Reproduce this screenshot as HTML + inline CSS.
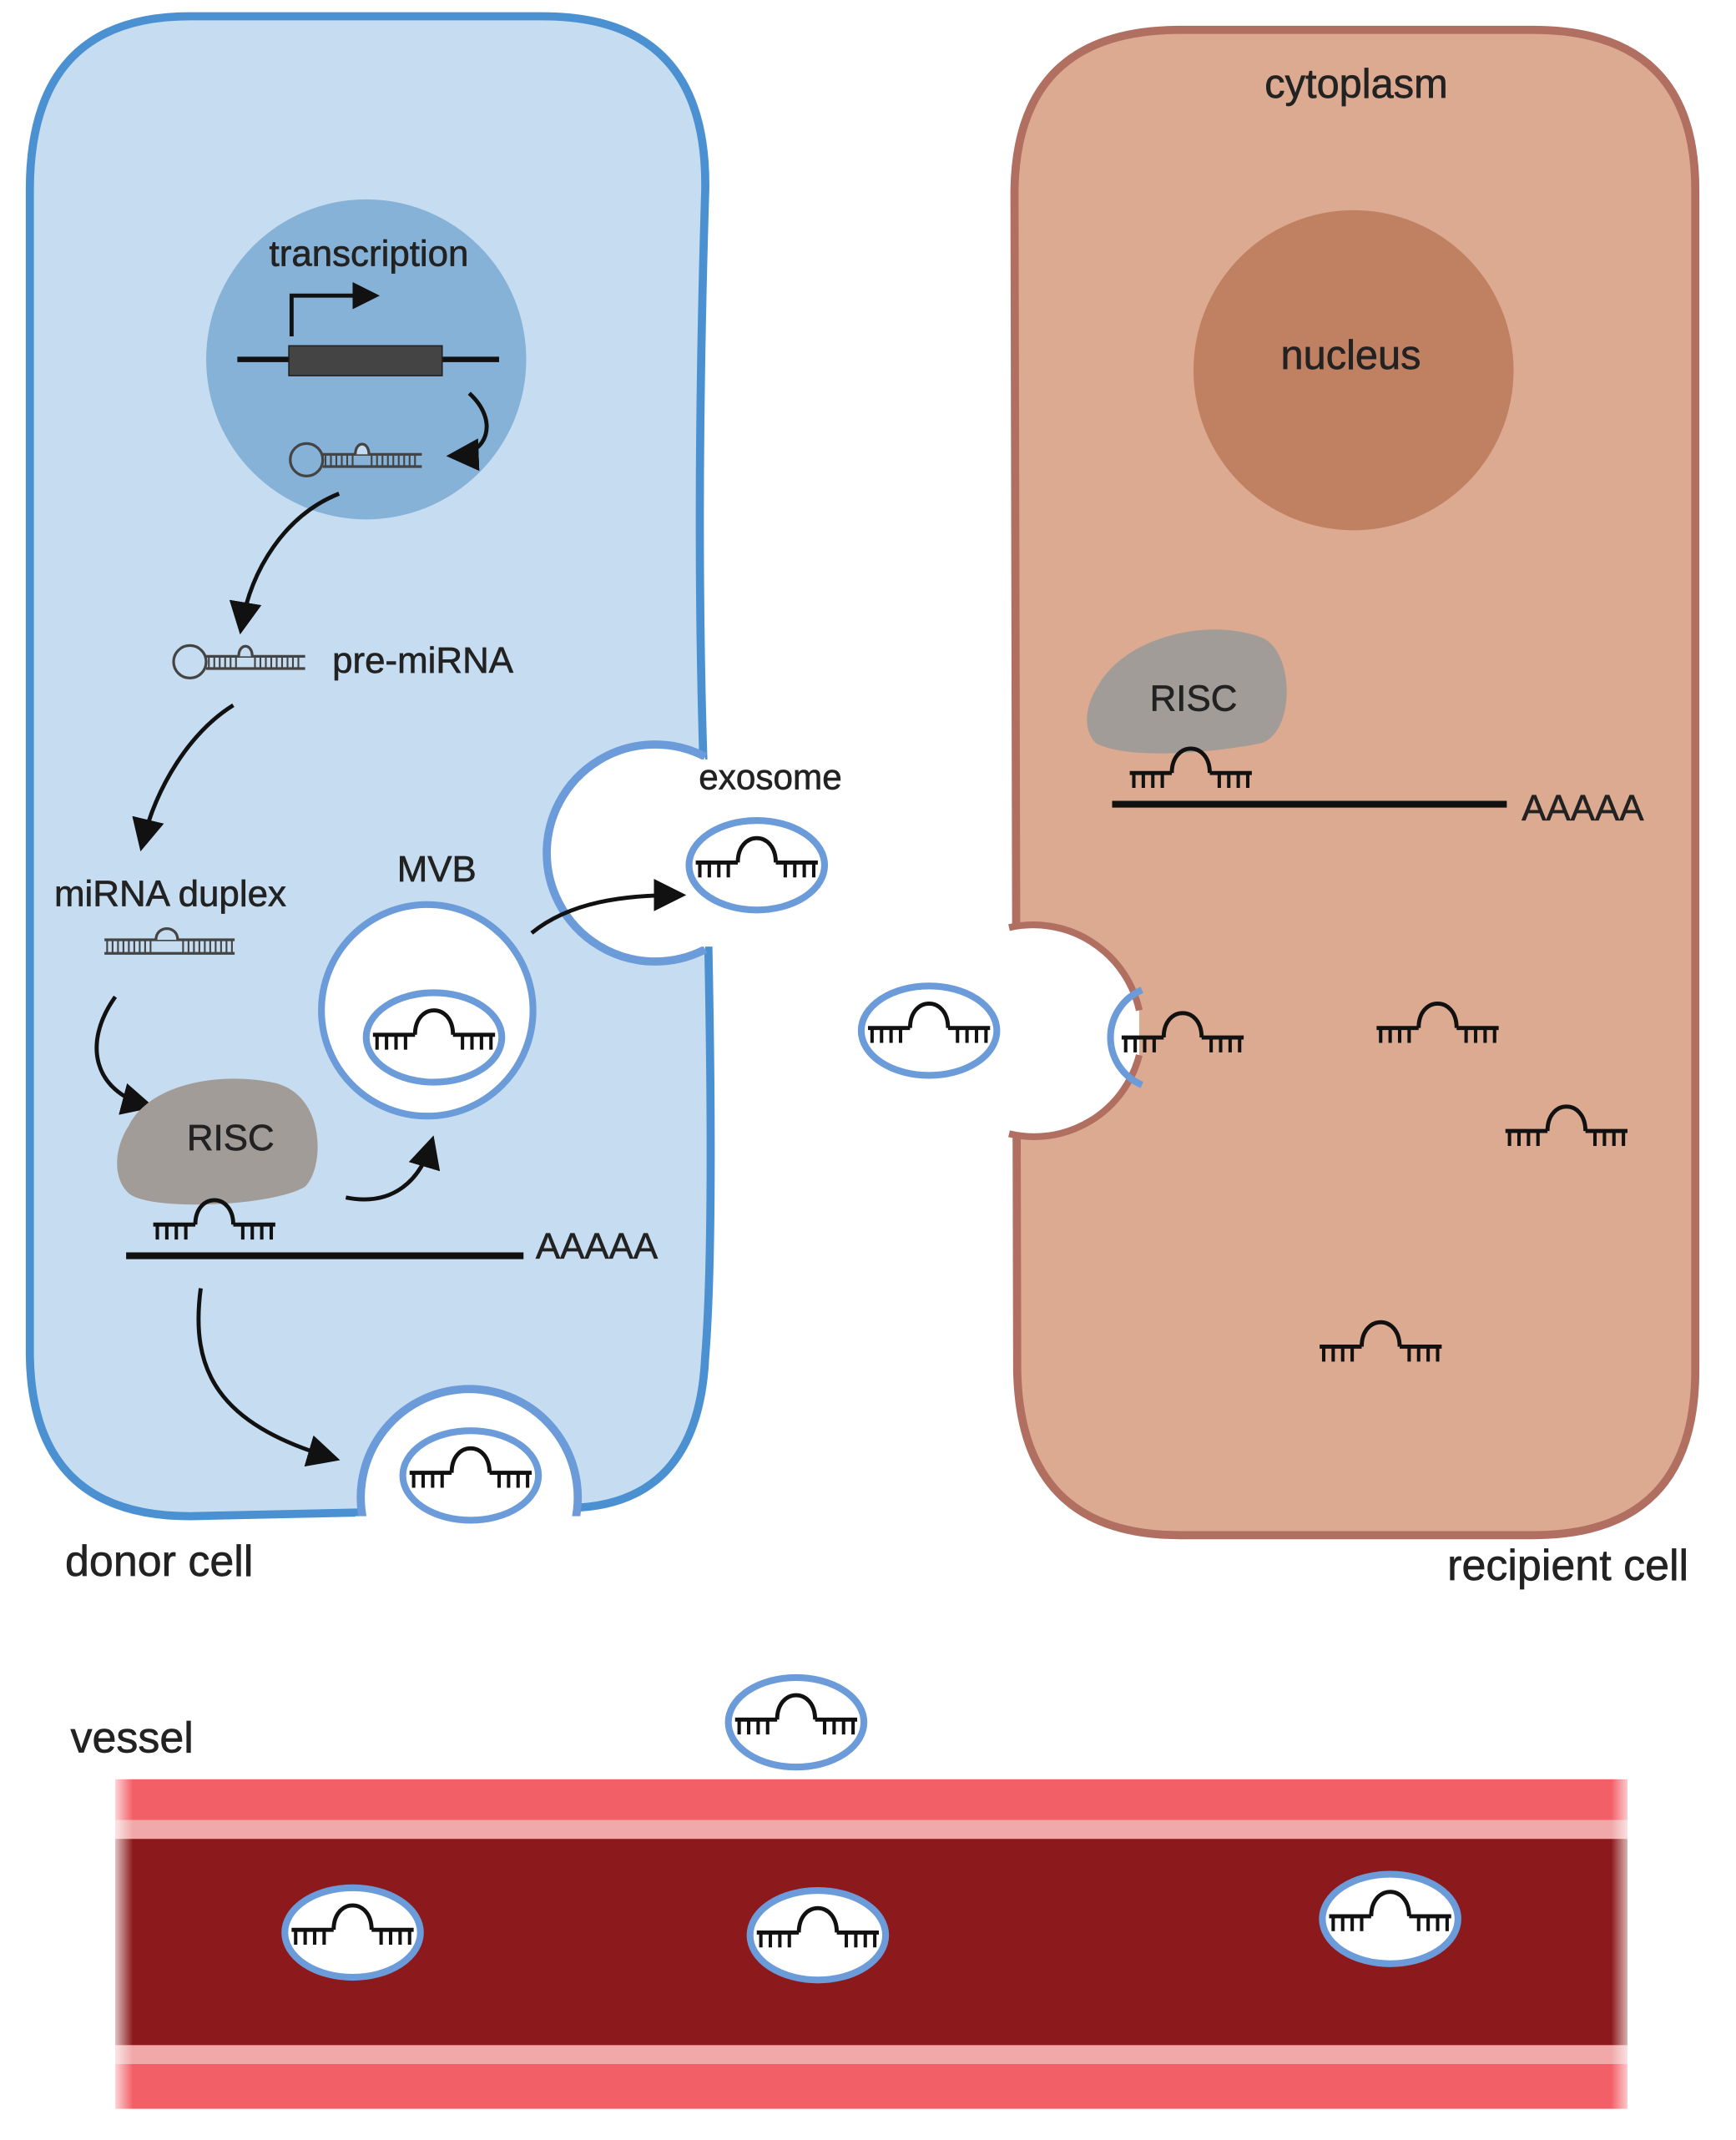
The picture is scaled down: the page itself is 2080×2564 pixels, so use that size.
<!DOCTYPE html>
<html><head><meta charset="utf-8"><style>
html,body{margin:0;padding:0;background:#fff;}
svg{display:block;}
text{font-family:"Liberation Sans",sans-serif;fill:#222;stroke:#222;stroke-width:0.4;}
</style></head><body>
<svg width="2080" height="2564" viewBox="0 0 1280 1578" preserveAspectRatio="none" xmlns="http://www.w3.org/2000/svg">
<defs>
<marker id="ah" markerWidth="8" markerHeight="8" refX="6" refY="4" orient="auto" markerUnits="strokeWidth">
<path d="M0,0 L8,4 L0,8 z" fill="#111"/></marker>
<g id="mi">
<path d="M-45 0 H-14 M14 0 H45 M-14 0 C-14 -24 14 -24 14 0" fill="none" stroke="#111" stroke-width="3"/>
<path d="M-42 0 v11 M-35 0 v11 M-28 0 v11 M-21 0 v11 M21 0 v11 M28 0 v11 M35 0 v11 M42 0 v11" stroke="#111" stroke-width="2.5"/>
</g>
<g id="ex">
<ellipse cx="0" cy="0" rx="50" ry="33" fill="#fff" stroke="#6b9bd9" stroke-width="5"/>
<use href="#mi" x="0" y="-2"/>
</g>
<g id="hp">
<circle cx="-40" cy="0" r="12" fill="none" stroke="#444" stroke-width="2"/>
<path d="M-28 -4 H45 M-28 5 H45" stroke="#444" stroke-width="2"/>
<path d="M-26 -4 V5 M-22 -4 V5 M-18 -4 V5 M-14 -4 V5 M-10 -4 V5 M-6 -4 V5 M8 -4 V5 M12 -4 V5 M16 -4 V5 M20 -4 V5 M24 -4 V5 M28 -4 V5 M32 -4 V5 M36 -4 V5 M40 -4 V5" stroke="#444" stroke-width="1.3"/>
<path d="M-4 -4 C-4 -14 6 -14 6 -4" fill="#c5dcf0" stroke="#444" stroke-width="2"/>
</g>
<linearGradient id="vfade" x1="0" x2="1" y1="0" y2="0">
<stop offset="0" stop-color="#fff" stop-opacity="1"/><stop offset="1" stop-color="#fff" stop-opacity="0"/>
</linearGradient>
</defs>

<!-- donor cell -->
<path d="M140 12 H400 Q522 12 520 140 Q512 400 520 600 Q528 900 520 1000 Q515 1110 420 1112 L140 1118 Q24 1118 22 1000 L22 140 Q22 12 140 12 Z" fill="#c6ddf1" stroke="#4b91d1" stroke-width="6"/>
<circle cx="270" cy="265" r="118" fill="#86b2d8"/>
<text x="272" y="196" font-size="27" text-anchor="middle">transcription</text>
<path d="M215 248 V218 H262" fill="none" stroke="#111" stroke-width="3"/>
<path d="M260 208 L280 218 L260 228 z" fill="#111"/>
<path d="M175 265 H368" stroke="#111" stroke-width="4"/>
<rect x="213" y="255" width="113" height="22" fill="#444" stroke="#222" stroke-width="1"/>
<path d="M346 290 C368 310 360 335 335 336" fill="none" stroke="#111" stroke-width="3" marker-end="url(#ah)"/>
<use href="#hp" x="266" y="339"/>
<path d="M250 364 C210 380 185 420 178 462" fill="none" stroke="#111" stroke-width="3" marker-end="url(#ah)"/>
<use href="#hp" x="180" y="488"/>
<text x="245" y="496" font-size="27">pre-miRNA</text>
<path d="M172 520 C140 540 115 580 105 622" fill="none" stroke="#111" stroke-width="3" marker-end="url(#ah)"/>
<text x="40" y="668" font-size="27">miRNA duplex</text>
<g transform="translate(125,698)">
<path d="M-48 -5 H48 M-48 5 H48" stroke="#444" stroke-width="2"/>
<path d="M-46 -5V5 M-42 -5V5 M-38 -5V5 M-34 -5V5 M-30 -5V5 M-26 -5V5 M-22 -5V5 M-18 -5V5 M-14 -5V5 M10 -5V5 M14 -5V5 M18 -5V5 M22 -5V5 M26 -5V5 M30 -5V5 M34 -5V5 M38 -5V5 M42 -5V5 M46 -5V5" stroke="#444" stroke-width="1.3"/>
<path d="M-10 -5 C-10 -16 6 -16 6 -5" fill="#c6ddf1" stroke="#444" stroke-width="2"/>
</g>
<path d="M85 735 C60 770 70 805 108 815" fill="none" stroke="#111" stroke-width="3" marker-end="url(#ah)"/>
<path d="M95 830 C110 800 160 790 200 798 C240 805 240 860 225 875 C200 890 110 893 95 880 C82 868 85 845 95 830 Z" fill="#a29c98"/>
<text x="170" y="848" font-size="27" text-anchor="middle">RISC</text>
<use href="#mi" x="158" y="903"/>
<path d="M93 926 H386" stroke="#111" stroke-width="5"/>
<text x="395" y="928" font-size="27">AAAAA</text>
<path d="M255 883 C290 890 310 870 318 843" fill="none" stroke="#111" stroke-width="3" marker-end="url(#ah)"/>
<circle cx="315" cy="745" r="78" fill="#fff" stroke="#6b9bd9" stroke-width="5"/>
<use href="#ex" x="320" y="765"/>
<text x="322" y="650" font-size="27" text-anchor="middle">MVB</text>
<!-- exosome budding on right edge -->
<path d="M520 558 A80 80 0 1 0 520 700" fill="#fff" stroke="#6b9bd9" stroke-width="6"/>
<rect x="516" y="560" width="67" height="138" fill="#fff"/>
<path d="M392 688 C420 665 460 660 500 660" fill="none" stroke="#111" stroke-width="3" marker-end="url(#ah)"/>
<use href="#ex" x="558" y="638"/>
<text x="568" y="582" font-size="26" text-anchor="middle">exosome</text>
<!-- bottom budding -->
<path d="M148 950 C140 1010 160 1050 245 1075" fill="none" stroke="#111" stroke-width="3" marker-end="url(#ah)"/>
<path d="M268 1122 A80 80 0 1 1 424 1122" fill="#fff" stroke="#6b9bd9" stroke-width="6"/>
<rect x="262" y="1118" width="170" height="20" fill="#fff"/>
<use href="#ex" x="347" y="1088"/>
<text x="48" y="1162" font-size="32">donor cell</text>

<!-- recipient cell -->
<path d="M870 22 H1130 Q1250 22 1250 140 L1250 1010 Q1250 1132 1130 1132 L870 1132 Q752 1132 750 1010 L748 140 Q750 22 870 22 Z" fill="#dcaa90" stroke="#b06f61" stroke-width="6"/>
<text x="1000" y="72" font-size="30" text-anchor="middle">cytoplasm</text>
<circle cx="998" cy="273" r="118" fill="#c08062"/>
<text x="996" y="272" font-size="30" text-anchor="middle">nucleus</text>
<path d="M810 505 C830 470 890 455 930 470 C955 480 955 540 930 548 C890 556 830 560 808 548 C798 538 800 520 810 505 Z" fill="#a29c98"/>
<text x="880" y="524" font-size="27" text-anchor="middle">RISC</text>
<use href="#mi" x="878" y="570"/>
<path d="M820 593 H1111" stroke="#111" stroke-width="5"/>
<text x="1122" y="605" font-size="27">AAAAA</text>
<!-- notch -->
<path d="M744 684 A80 80 0 0 1 840 745 L840 778 A80 80 0 0 1 744 836 Z" fill="#fff"/>
<path d="M744 684 A80 80 0 0 1 840 745" fill="none" stroke="#b06f61" stroke-width="5"/>
<path d="M840 778 A80 80 0 0 1 744 836" fill="none" stroke="#b06f61" stroke-width="5"/>
<rect x="735" y="688" width="14" height="144" fill="#fff"/>
<path d="M842 730 A38 38 0 0 0 842 800" fill="none" stroke="#6b9bd9" stroke-width="5"/>
<use href="#mi" x="872" y="765"/>
<use href="#mi" x="1060" y="758"/>
<use href="#mi" x="1155" y="834"/>
<use href="#mi" x="1018" y="993"/>
<use href="#ex" x="685" y="760"/>
<text x="1245" y="1165" font-size="32" text-anchor="end">recipient cell</text>

<!-- vessel -->
<text x="52" y="1292" font-size="32">vessel</text>
<use href="#ex" x="587" y="1270"/>
<rect x="85" y="1312" width="1115" height="243" fill="#f35f67"/>
<rect x="85" y="1342" width="1115" height="14" fill="#f0a8a8"/>
<rect x="85" y="1508" width="1115" height="14" fill="#f0a8a8"/>
<rect x="85" y="1356" width="1115" height="152" fill="#8c1a1c"/>
<rect x="80" y="1308" width="18" height="252" fill="url(#vfade)"/>
<rect x="1188" y="1308" width="18" height="252" fill="url(#vfade)" transform="rotate(180 1197 1434)"/>
<use href="#ex" x="260" y="1425"/>
<use href="#ex" x="603" y="1427"/>
<use href="#ex" x="1025" y="1415"/>
</svg>
</body></html>
